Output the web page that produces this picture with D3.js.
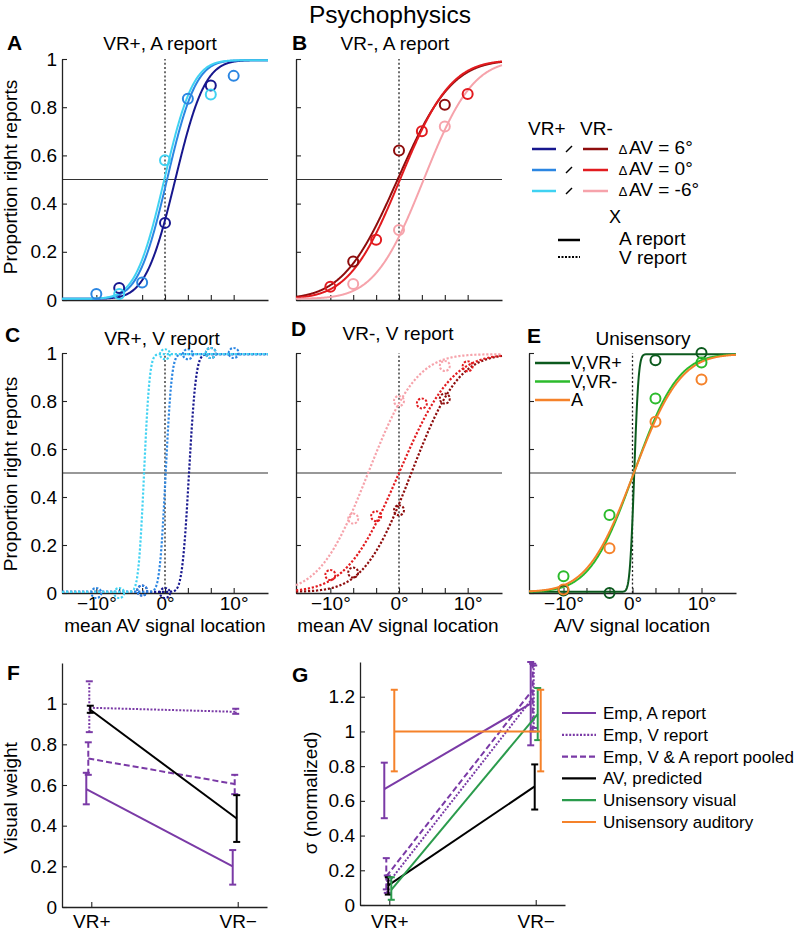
<!DOCTYPE html>
<html><head><meta charset="utf-8">
<script src="https://cdn.jsdelivr.net/npm/d3@7"></script>
<style>
body{margin:0;background:#fff;}
svg{display:block;font-family:"Liberation Sans",Arial,Helvetica,sans-serif;}
</style></head><body>
<svg id="fig" width="800" height="931"></svg>
<script>
// ================= DATA =================
const xTickValues = [-10, -6.67, -3.33, 0, 3.33, 6.67, 10];
const xTickLabelValues = [-10, 0, 10];
const xTickLabels = ["−10°", "0°", "10°"];
const propTicks = [0, 0.2, 0.4, 0.6, 0.8, 1];
const propTickLabels = ["0", "0.2", "0.4", "0.6", "0.8", "1"];

const deltaAVLabels = ["6°", "0°", "-6°"];
const uniLabels = ["V,VR+", "V,VR-", "A"];

// fitted psychometric functions: PSE (deg) and slope sigma (deg), one per ΔAV (6, 0, -6)
const fitA_pse = [1.5, 0.3, -0.1];
const fitA_sigma = [3.4, 3.3, 3.3];
const fitB_pse = [-0.2, 0.15, 3.6];
const fitB_sigma = [6.2, 5.8, 5.6];
const fitC_pse = [3.5, 0.1, -3.05];
const fitC_sigma = [0.8, 0.7, 0.65];
const fitD_pse = [1.8, 0.0, -4.5];
const fitD_sigma = [5.4, 6.0, 5.5];
const fitE_pse = [0.25, 0.2, 0.2];
const fitE_sigma = [0.5, 5.0, 5.3];
const lapseRate = 0.005;

// observed proportions of right reports
const obsA_x = [[-6.67, 0, 6.67], [-10, -3.33, 3.33, 10], [-6.67, 0, 6.67]];
const obsA_p = [[0.05, 0.32, 0.89], [0.025, 0.073, 0.835, 0.93], [0.025, 0.58, 0.853]];
const obsB_x = [[-6.67, 0, 6.67], [-10, -3.33, 3.33, 10], [-6.67, 0, 6.67]];
const obsB_p = [[0.16, 0.62, 0.81], [0.055, 0.25, 0.70, 0.855], [0.066, 0.29, 0.72]];
const obsC_x = [[-3.33, 0, 6.67], [-10, -3.33, 3.33, 10], [-6.67, 0, 6.67]];
const obsC_p = [[0.01, 0.0, 1.0], [0.0, 0.01, 0.995, 1.0], [0.0, 0.995, 1.0]];
const obsD_x = [[-6.67, 0, 6.67], [-10, -3.33, 3.33, 10], [-6.67, 0, 6.67]];
const obsD_p = [[0.085, 0.345, 0.81], [0.075, 0.32, 0.79, 0.945], [0.31, 0.80, 0.946]];
const obsE_x = [[-10, -3.33, 3.33, 10], [-10, -3.33, 3.33, 10], [-10, -3.33, 3.33, 10]];
const obsE_p = [[0.01, 0.0, 0.97, 1.0], [0.07, 0.325, 0.81, 0.96], [0.015, 0.186, 0.714, 0.89]];

// F: visual weight, G: sigma (normalized)
const conditions = ["VR+", "VR−"];
const weightSeries = ["Emp, A report", "Emp, V report", "Emp, V & A report pooled", "AV, predicted"];
const weightMean = [[0.58, 0.20], [0.98, 0.96], [0.73, 0.605], [0.97, 0.435]];
const weightLo   = [[0.505, 0.11], [0.86, 0.95], [0.65, 0.555], [0.955, 0.32]];
const weightHi   = [[0.66, 0.28], [1.11, 0.975], [0.81, 0.65], [0.99, 0.55]];
const weightTicks = [0, 0.2, 0.4, 0.6, 0.8, 1];

const sigmaSeries = ["Emp, A report", "Emp, V report", "Emp, V & A report pooled", "AV, predicted", "Unisensory visual", "Unisensory auditory"];
const sigmaMean = [[0.667, 1.16], [0.12, 1.20], [0.165, 1.24], [0.113, 0.683], [0.087, 1.10], [1.0, 1.0]];
const sigmaLo   = [[0.50, 0.92], [0.07, 1.02], [0.09, 1.00], [0.06, 0.55], [0.03, 0.95], [0.77, 0.77]];
const sigmaHi   = [[0.82, 1.40], [0.17, 1.38], [0.27, 1.39], [0.16, 0.81], [0.16, 1.25], [1.24, 1.24]];
const sigmaTicks = [0, 0.2, 0.4, 0.6, 0.8, 1, 1.2];

// ================= STYLE =================
const blues = ["#17178e", "#2b86e2", "#40d2f2"];
const reds = ["#8e0d0d", "#e21b1f", "#f6a3ab"];
const unis = ["#0c5a1e", "#2cbb2c", "#f5822a"];
const purple = "#7a3aa6";
const seriesStyle = {
  "Emp, A report": {color: purple, dash: null, dx: -5},
  "Emp, V report": {color: purple, dash: "2,1.6", dx: -2},
  "Emp, V & A report pooled": {color: purple, dash: "6,3", dx: -3},
  "AV, predicted": {color: "#000", dash: null, dx: -1},
  "Unisensory visual": {color: "#2a9b4c", dash: null, dx: 2},
  "Unisensory auditory": {color: "#f5822a", dash: null, dx: 5}
};
const FS = 19;
const AX = "#222";

const svg = d3.select("#fig");

function Phi(z) {
  const x = Math.abs(z) / Math.SQRT2;
  const t = 1 / (1 + 0.3275911 * x);
  const y = 1 - (((((1.061405429 * t - 1.453152027) * t) + 1.421413741) * t - 0.284496736) * t + 0.254829592) * t * Math.exp(-x * x);
  return z >= 0 ? 0.5 * (1 + y) : 0.5 * (1 - y);
}
function psy(x, pse, s) { return lapseRate + (1 - 2 * lapseRate) * Phi((x - pse) / s); }

function styleAxis(sel) {
  sel.attr("font-size", null).attr("font-family", null);
  sel.selectAll("text").attr("font-size", FS).attr("fill", "#000");
  sel.select(".domain").attr("stroke", AX).attr("stroke-width", 1.3);
  sel.selectAll(".tick line").attr("stroke", AX).attr("stroke-width", 1.1);
}

function text(x, y, s, opts = {}) {
  const t = svg.append("text").attr("x", x).attr("y", y).text(s)
    .attr("font-size", opts.size || FS).attr("fill", "#000");
  if (opts.anchor) t.attr("text-anchor", opts.anchor);
  if (opts.bold) t.attr("font-weight", "bold");
  return t;
}
function ylabel(x, y, s) {
  svg.append("text").attr("transform", `translate(${x},${y}) rotate(-90)`)
    .attr("text-anchor", "middle").attr("font-size", FS).text(s);
}

// ================= PSYCHOMETRIC PANELS =================
const psyPanels = [
  {L: "A", left: 62, right: 268, top: 59, bottom: 300, pse: fitA_pse, sig: fitA_sigma, ox: obsA_x, op: obsA_p, cols: blues, dotted: false, yLab: true, xLab: false, title: "VR+, A report", tx: 160, ty: 50, lx: 7, ly: 50},
  {L: "B", left: 296, right: 502, top: 59, bottom: 300, pse: fitB_pse, sig: fitB_sigma, ox: obsB_x, op: obsB_p, cols: reds, dotted: false, yLab: false, xLab: false, title: "VR-, A report", tx: 395, ty: 50, lx: 292, ly: 50},
  {L: "C", left: 62, right: 268, top: 353, bottom: 593, pse: fitC_pse, sig: fitC_sigma, ox: obsC_x, op: obsC_p, cols: blues, dotted: true, yLab: true, xLab: true, title: "VR+, V report", tx: 162, ty: 345, lx: 5, ly: 342},
  {L: "D", left: 296, right: 502, top: 353, bottom: 593, pse: fitD_pse, sig: fitD_sigma, ox: obsD_x, op: obsD_p, cols: reds, dotted: true, yLab: false, xLab: true, title: "VR-, V report", tx: 398, ty: 340, lx: 291, ly: 336},
  {L: "E", left: 529, right: 736, top: 353, bottom: 593, pse: fitE_pse, sig: fitE_sigma, ox: obsE_x, op: obsE_p, cols: unis, dotted: false, yLab: false, xLab: true, title: "Unisensory", tx: 643, ty: 345, lx: 527, ly: 343}
];

const samples = d3.range(-15, 15.0001, 0.05);

psyPanels.forEach(p => {
  const x = d3.scaleLinear().domain([-15, 15]).range([p.left, p.right]);
  const y = d3.scaleLinear().domain([0, 1]).range([p.bottom, p.top]);
  const g = svg.append("g");

  // reference lines
  g.append("line").attr("x1", x(-15)).attr("x2", x(15)).attr("y1", y(0.5)).attr("y2", y(0.5))
    .attr("stroke", "#333").attr("stroke-width", 1.1);
  g.append("line").attr("x1", x(0)).attr("x2", x(0)).attr("y1", y(0)).attr("y2", y(1))
    .attr("stroke", "#222").attr("stroke-width", 1.3).attr("stroke-dasharray", "2,2.2");

  // axes
  const xa = g.append("g").attr("transform", `translate(0,${p.bottom})`)
    .call(d3.axisBottom(x).tickValues(xTickValues).tickSize(-5).tickSizeOuter(0).tickPadding(4)
      .tickFormat(d => { const i = xTickLabelValues.indexOf(d); return (p.xLab && i >= 0) ? xTickLabels[i] : ""; }));
  styleAxis(xa);
  const ya = g.append("g").attr("transform", `translate(${p.left},0)`)
    .call(d3.axisLeft(y).tickValues(propTicks).tickSize(-5).tickSizeOuter(0).tickPadding(5)
      .tickFormat((d, i) => p.yLab ? propTickLabels[i] : ""));
  styleAxis(ya);

  // fitted curves
  const line = d3.line().x(d => x(d[0])).y(d => y(d[1]));
  p.pse.forEach((m, i) => {
    const pts = samples.map(v => [v, psy(v, m, p.sig[i])]);
    g.append("path").attr("d", line(pts)).attr("fill", "none")
      .attr("stroke", p.cols[i]).attr("stroke-width", p.dotted ? 2.2 : 2)
      .attr("stroke-dasharray", p.dotted ? "2.2,1.8" : null);
  });
  // observed points
  p.ox.forEach((xs, i) => {
    g.selectAll(null).data(xs.map((v, j) => [v, p.op[i][j]])).enter().append("circle")
      .attr("cx", d => x(d[0])).attr("cy", d => y(d[1])).attr("r", 5)
      .attr("fill", "none").attr("stroke", p.cols[i]).attr("stroke-width", 2)
      .attr("stroke-dasharray", p.dotted ? "2.2,1.6" : null);
  });

  text(p.tx, p.ty, p.title, {anchor: "middle"});
  text(p.lx, p.ly, p.L, {bold: true, size: 21});
});

text(390, 23, "Psychophysics", {anchor: "middle", size: 24.5});
ylabel(17, 177, "Proportion right reports");
ylabel(17, 474, "Proportion right reports");
text(165, 632, "mean AV signal location", {anchor: "middle"});
text(398, 632, "mean AV signal location", {anchor: "middle"});
text(632, 632, "A/V signal location", {anchor: "middle"});

// legend for A–D
text(528, 135, "VR+");
text(580, 135, "VR-");
deltaAVLabels.forEach((lab, i) => {
  const ly = 149 + i * 21;
  svg.append("line").attr("x1", 532).attr("x2", 556).attr("y1", ly).attr("y2", ly).attr("stroke", blues[i]).attr("stroke-width", 2.5);
  svg.append("line").attr("x1", 566).attr("x2", 572).attr("y1", ly + 3).attr("y2", ly - 3).attr("stroke", "#000").attr("stroke-width", 1.4);
  svg.append("line").attr("x1", 583).attr("x2", 608).attr("y1", ly).attr("y2", ly).attr("stroke", reds[i]).attr("stroke-width", 2.5);
  text(619, ly + 5, "∆", {size: 13});
  text(629, ly + 5, "AV = " + lab, {size: 19});
});
text(609, 223, "X", {size: 18});
svg.append("line").attr("x1", 558).attr("x2", 580).attr("y1", 240).attr("y2", 240).attr("stroke", "#000").attr("stroke-width", 2.5);
svg.append("line").attr("x1", 558).attr("x2", 580).attr("y1", 257).attr("y2", 257).attr("stroke", "#000").attr("stroke-width", 2.2).attr("stroke-dasharray", "2,1.5");
text(619, 245, "A report");
text(619, 264, "V report");

// legend for E
uniLabels.forEach((lab, i) => {
  const ly = 363 + i * 18.5;
  svg.append("line").attr("x1", 535).attr("x2", 570).attr("y1", ly).attr("y2", ly).attr("stroke", unis[i]).attr("stroke-width", 2.5);
  text(571, ly + 6, lab, {size: 18});
});

// ================= F & G =================
function summaryPanel(cfg) {
  const x = d3.scaleLinear().domain([0.8, 2.2]).range([cfg.left, cfg.right]);
  const y = d3.scaleLinear().domain(cfg.ydom).range([cfg.bottom, cfg.top]);
  const g = svg.append("g");
  const xa = g.append("g").attr("transform", `translate(0,${cfg.bottom})`)
    .call(d3.axisBottom(x).tickValues([1, 2]).tickSize(-5).tickSizeOuter(0).tickPadding(cfg.xpad)
      .tickFormat((d, i) => conditions[i]));
  styleAxis(xa);
  const ya = g.append("g").attr("transform", `translate(${cfg.left},0)`)
    .call(d3.axisLeft(y).tickValues(cfg.ticks).tickSize(-5).tickSizeOuter(0).tickPadding(5)
      .tickFormat(d => d3.format("~g")(d)));
  styleAxis(ya);

  cfg.series.forEach((name, si) => {
    const st = seriesStyle[name];
    const pts = conditions.map((c, ci) => ({
      x: x(ci + 1) + st.dx, m: cfg.mean[si][ci], lo: cfg.lo[si][ci], hi: cfg.hi[si][ci]
    }));
    g.append("path").attr("d", d3.line().x(d => d.x).y(d => y(d.m))(pts))
      .attr("fill", "none").attr("stroke", st.color).attr("stroke-width", 2)
      .attr("stroke-dasharray", st.dash);
    pts.forEach(d => {
      g.append("line").attr("x1", d.x).attr("x2", d.x).attr("y1", y(d.lo)).attr("y2", y(d.hi))
        .attr("stroke", st.color).attr("stroke-width", 2).attr("stroke-dasharray", st.dash);
      [d.lo, d.hi].forEach(v => g.append("line").attr("x1", d.x - 3.5).attr("x2", d.x + 3.5)
        .attr("y1", y(v)).attr("y2", y(v)).attr("stroke", st.color).attr("stroke-width", 2));
    });
  });
  text(cfg.lx, cfg.ly, cfg.L, {bold: true, size: 21});
}

summaryPanel({L: "F", left: 62, right: 267, top: 663, bottom: 907, ydom: [0, 1.2], ticks: weightTicks, xpad: 8,
  series: weightSeries, mean: weightMean, lo: weightLo, hi: weightHi, lx: 7, ly: 680});
summaryPanel({L: "G", left: 360, right: 565, top: 662, bottom: 905, ydom: [0, 1.4], ticks: sigmaTicks, xpad: 10,
  series: sigmaSeries, mean: sigmaMean, lo: sigmaLo, hi: sigmaHi, lx: 292, ly: 682});
ylabel(17, 798, "Visual weight");
ylabel(317, 793, "σ (normalized)");

// legend for G
sigmaSeries.forEach((name, i) => {
  const st = seriesStyle[name];
  const ly = 713 + i * 21.8;
  svg.append("line").attr("x1", 562).attr("x2", 596).attr("y1", ly).attr("y2", ly)
    .attr("stroke", st.color).attr("stroke-width", 2.2).attr("stroke-dasharray", st.dash);
  text(603, ly + 6, name, {size: 17});
});
</script>
</body></html>
